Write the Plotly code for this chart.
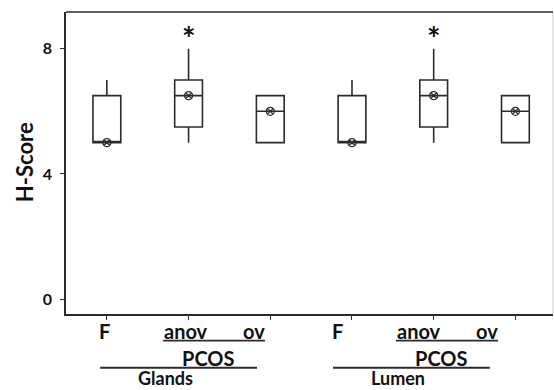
import plotly.graph_objects as go

# ---- data ----
positions = [0, 1, 2, 3, 4, 5]
box_q1 = [5.0, 5.5, 5.0, 5.0, 5.5, 5.0]
box_median = [5.0, 6.5, 6.0, 5.0, 6.5, 6.0]
box_q3 = [6.5, 7.0, 6.5, 6.5, 7.0, 6.5]
box_low = [5.0, 5.0, 5.0, 5.0, 5.0, 5.0]
box_high = [7.0, 8.0, 6.5, 7.0, 8.0, 6.5]
marker_vals = [5.0, 6.5, 6.0, 5.0, 6.5, 6.0]
star_positions = [1, 4]
star_vals = [8.55, 8.55]
y_ticks = [0, 4, 8]
sub_labels = ["F", "anov", "ov"]
group_names = ["Glands", "Lumen"]
pcos_label = "PCOS"

LINE = "#2b2b2b"
TXT = "#111111"
FONT = "Lato"

fig = go.Figure()
fig.add_trace(go.Box(
    x=positions, q1=box_q1, median=box_median, q3=box_q3,
    lowerfence=box_low, upperfence=box_high,
    width=0.34, line=dict(color=LINE, width=1.6), fillcolor="rgba(0,0,0,0)",
    whiskerwidth=0, boxpoints=False, showlegend=False, hoverinfo="skip"))
fig.add_trace(go.Scatter(
    x=positions, y=marker_vals, mode="markers",
    marker=dict(symbol="circle-x-open", size=8, color=LINE, line=dict(width=1.3, color=LINE)),
    showlegend=False, hoverinfo="skip"))

ann = []
shapes = []
# asterisks
for sx, sy in zip(star_positions, star_vals):
    ann.append(dict(x=sx, y=sy, xref="x", yref="y", text="<b>*</b>", showarrow=False,
                    xanchor="center", yanchor="middle", yshift=-7,
                    font=dict(family=FONT, size=32, color=TXT)))

# ---- category label annotations (layout) ----
group_offsets = [0.0, 2.85]
label_dx = [-0.033, 0.964, 1.80]
lab_y, ul_y, pcos_y, gl_line_y, grp_y = -0.057, -0.088, -0.146, -0.178, -0.212
LBL = 20
for gi, g in enumerate(group_names):
    o = group_offsets[gi]
    for lab, dx in zip(sub_labels, label_dx):
        ann.append(dict(x=o + dx, y=lab_y, xref="x", yref="paper", text="<b>%s</b>" % lab,
                        showarrow=False, xanchor="center", yanchor="middle",
                        font=dict(family=FONT, size=LBL, color=TXT)))
    ann.append(dict(x=o + 1.239, y=pcos_y, xref="x", yref="paper", text="<b>%s</b>" % pcos_label,
                    showarrow=False, xanchor="center", yanchor="middle",
                    font=dict(family=FONT, size=LBL, color=TXT)))
    ann.append(dict(x=o + 0.719, y=grp_y, xref="x", yref="paper", text="<b>%s</b>" % g,
                    showarrow=False, xanchor="center", yanchor="middle",
                    font=dict(family=FONT, size=18, color=TXT)))
    shapes.append(dict(type="line", xref="x", yref="paper", x0=o + 0.689, x1=o + 1.936,
                       y0=ul_y, y1=ul_y, line=dict(color=LINE, width=1.8)))
    shapes.append(dict(type="line", xref="x", yref="paper", x0=o - 0.082, x1=o + 1.838,
                       y0=gl_line_y, y1=gl_line_y, line=dict(color=LINE, width=1.8)))

# y-axis title
ann.append(dict(x=-0.086, y=0.503, xref="paper", yref="paper", text="<b>H-Score</b>",
                textangle=-90, showarrow=False, xanchor="center", yanchor="middle",
                font=dict(family=FONT, size=22, color=TXT)))

# right frame line (light) and top frame line
shapes.append(dict(type="line", xref="paper", yref="paper", x0=1, x1=1, y0=0, y1=1,
                   line=dict(color="#cccccc", width=1)))
shapes.append(dict(type="line", xref="paper", yref="paper", x0=0, x1=1, y0=1, y1=1,
                   line=dict(color=LINE, width=1.5)))

fig.update_layout(
    width=554, height=390,
    margin=dict(l=66, r=1, t=12, b=76),
    plot_bgcolor="white", paper_bgcolor="white",
    annotations=ann, shapes=shapes,
    xaxis=dict(range=[-0.5, 5.46], tickvals=positions, ticktext=[""] * 6,
               ticks="outside", ticklen=4, tickcolor=LINE, tickwidth=1.3,
               showline=True, linecolor=LINE, linewidth=1.5, mirror=False,
               showgrid=False, zeroline=False),
    yaxis=dict(range=[-0.47, 9.17], tickvals=y_ticks, ticktext=["<b>%d</b>" % v for v in y_ticks],
               ticks="outside", ticklen=4, tickcolor=LINE, tickwidth=1.3,
               ticklabelstandoff=5,
               tickfont=dict(family=FONT, size=16, color=TXT),
               showline=True, linecolor=LINE, linewidth=1.5,
               showgrid=False, zeroline=False),
)

fig.write_html("out.html")
